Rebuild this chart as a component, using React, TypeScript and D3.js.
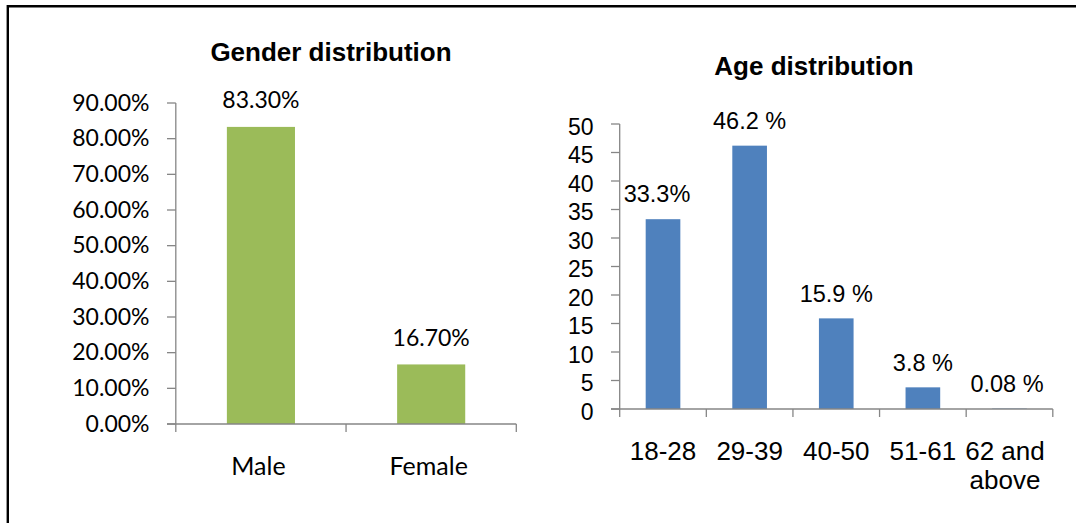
import React from "react";
import * as d3 from "d3";

const genderCategories = ["Male", "Female"];
const genderValues = [83.3, 16.7];
const genderLabels = ["83.30%", "16.70%"];
const genderTicks = [0, 10, 20, 30, 40, 50, 60, 70, 80, 90];

const ageCategories = [["18-28"], ["29-39"], ["40-50"], ["51-61"], ["62 and", "above"]];
const ageValues = [33.3, 46.2, 15.9, 3.8, 0.08];
const ageLabels = ["33.3%", "46.2 %", "15.9 %", "3.8 %", "0.08 %"];
const ageTicks = [0, 5, 10, 15, 20, 25, 30, 35, 40, 45, 50];

const AXIS = "#868686";
const GREEN = "#9BBB59";
const BLUE = "#4F81BD";
const CAL = "Lato, 'Open Sans', sans-serif";
const ARIAL = "'Liberation Sans', Arial, sans-serif";

export default function App() {
  // Left chart
  const gx = d3
    .scaleBand<string>()
    .domain(genderCategories)
    .range([175.8, 516.3])
    .paddingInner(0.6)
    .paddingOuter(0.3);
  const gxAxis = d3.scaleBand<string>().domain(genderCategories).range([175.8, 516.3]);
  const gy = d3.scaleLinear().domain([0, 90]).range([424, 103]);

  // Right chart
  const ageKeys = ageCategories.map((c) => c.join(" "));
  const ax = d3
    .scaleBand<string>()
    .domain(ageKeys)
    .range([619.7, 1052.8])
    .paddingInner(0.6)
    .paddingOuter(0.3);
  const axAxis = d3.scaleBand<string>().domain(ageKeys).range([619.7, 1052.8]);
  const ay = d3.scaleLinear().domain([0, 50]).range([409, 124]);

  const gBoundaries = [...genderCategories.map((c) => gxAxis(c) as number), gxAxis.range()[1]];
  const aBoundaries = [...ageKeys.map((c) => axAxis(c) as number), axAxis.range()[1]];

  return (
    <svg
      width={1076}
      height={523}
      style={{ position: "absolute", left: 0, top: 0, display: "block", background: "#fff" }}
    >
      <rect x={0} y={0} width={1076} height={523} fill="#fff" />
      {/* border */}
      <line x1={7.8} y1={6.3} x2={1076} y2={6.3} stroke="#000" strokeWidth={2.4} />
      <line x1={7.8} y1={5} x2={7.8} y2={523} stroke="#000" strokeWidth={2.4} />

      {/* ===== Gender chart ===== */}
      <text x={331} y={61} textAnchor="middle" fontFamily={ARIAL} fontWeight="bold" fontSize={26}>
        Gender distribution
      </text>
      {genderCategories.map((c, i) => (
        <rect
          key={c}
          x={gx(c)}
          y={gy(genderValues[i])}
          width={gx.bandwidth()}
          height={gy(0) - gy(genderValues[i])}
          fill={GREEN}
        />
      ))}
      {/* y axis */}
      <line x1={175.8} y1={gy(90)} x2={175.8} y2={gy(0)} stroke={AXIS} strokeWidth={1.3} />
      {genderTicks.map((t) => (
        <g key={t}>
          <line x1={167} x2={175.8} y1={gy(t)} y2={gy(t)} stroke={AXIS} strokeWidth={1.3} />
          <text x={149.5} y={gy(t) + 7.7} textAnchor="end" fontFamily={CAL} fontSize={23} fill="#000">
            {t.toFixed(2)}%
          </text>
        </g>
      ))}
      {/* x axis */}
      <line x1={167} y1={gy(0)} x2={516.3} y2={gy(0)} stroke={AXIS} strokeWidth={1.3} />
      {gBoundaries.map((b, i) => (
        <line key={i} x1={b} x2={b} y1={gy(0)} y2={gy(0) + 8} stroke={AXIS} strokeWidth={1.3} />
      ))}
      {genderCategories.map((c, i) => (
        <text
          key={c}
          x={(gx(c) as number) + gx.bandwidth() / 2 - 2.5}
          y={475}
          textAnchor="middle"
          fontFamily={CAL}
          fontSize={25}
        >
          {c}
        </text>
      ))}
      {genderCategories.map((c, i) => (
        <text
          key={c + "l"}
          x={(gx(c) as number) + gx.bandwidth() / 2}
          y={gy(genderValues[i]) - 18.7}
          textAnchor="middle"
          fontFamily={CAL}
          fontSize={23}
        >
          {genderLabels[i]}
        </text>
      ))}

      {/* ===== Age chart ===== */}
      <text x={814} y={74.5} textAnchor="middle" fontFamily={ARIAL} fontWeight="bold" fontSize={26}>
        Age distribution
      </text>
      {ageKeys.map((c, i) => (
        <rect
          key={c}
          x={ax(c)}
          y={ay(ageValues[i])}
          width={ax.bandwidth()}
          height={ay(0) - ay(ageValues[i])}
          fill={BLUE}
        />
      ))}
      <line x1={619.7} y1={ay(50)} x2={619.7} y2={ay(0)} stroke={AXIS} strokeWidth={1.3} />
      {ageTicks.map((t) => (
        <g key={t}>
          <line x1={611} x2={619.7} y1={ay(t)} y2={ay(t)} stroke={AXIS} strokeWidth={1.3} />
          <text x={593.5} y={ay(t) + 10.8} textAnchor="end" fontFamily={ARIAL} fontSize={23}>
            {t}
          </text>
        </g>
      ))}
      <line x1={611} y1={ay(0)} x2={1052.8} y2={ay(0)} stroke={AXIS} strokeWidth={1.3} />
      {aBoundaries.map((b, i) => (
        <line key={i} x1={b} x2={b} y1={ay(0)} y2={ay(0) + 8} stroke={AXIS} strokeWidth={1.3} />
      ))}
      {ageCategories.map((lines, i) => (
        <text key={i} textAnchor="middle" fontFamily={ARIAL} fontSize={26}>
          {lines.map((ln, j) => (
            <tspan
              key={j}
              x={(ax(ageKeys[i]) as number) + ax.bandwidth() / 2 - (lines.length > 1 ? 4.5 : 0)}
              y={459.5 + j * 29}
            >
              {ln}
            </tspan>
          ))}
        </text>
      ))}
      {ageKeys.map((c, i) => (
        <text
          key={c + "l"}
          x={(ax(c) as number) + ax.bandwidth() / 2 - (i === 0 ? 6 : 0) - (i === 4 ? 2.5 : 0)}
          y={ay(ageValues[i]) - 16.8}
          textAnchor="middle"
          fontFamily={ARIAL}
          fontSize={23.5}
        >
          {ageLabels[i]}
        </text>
      ))}
    </svg>
  );
}
